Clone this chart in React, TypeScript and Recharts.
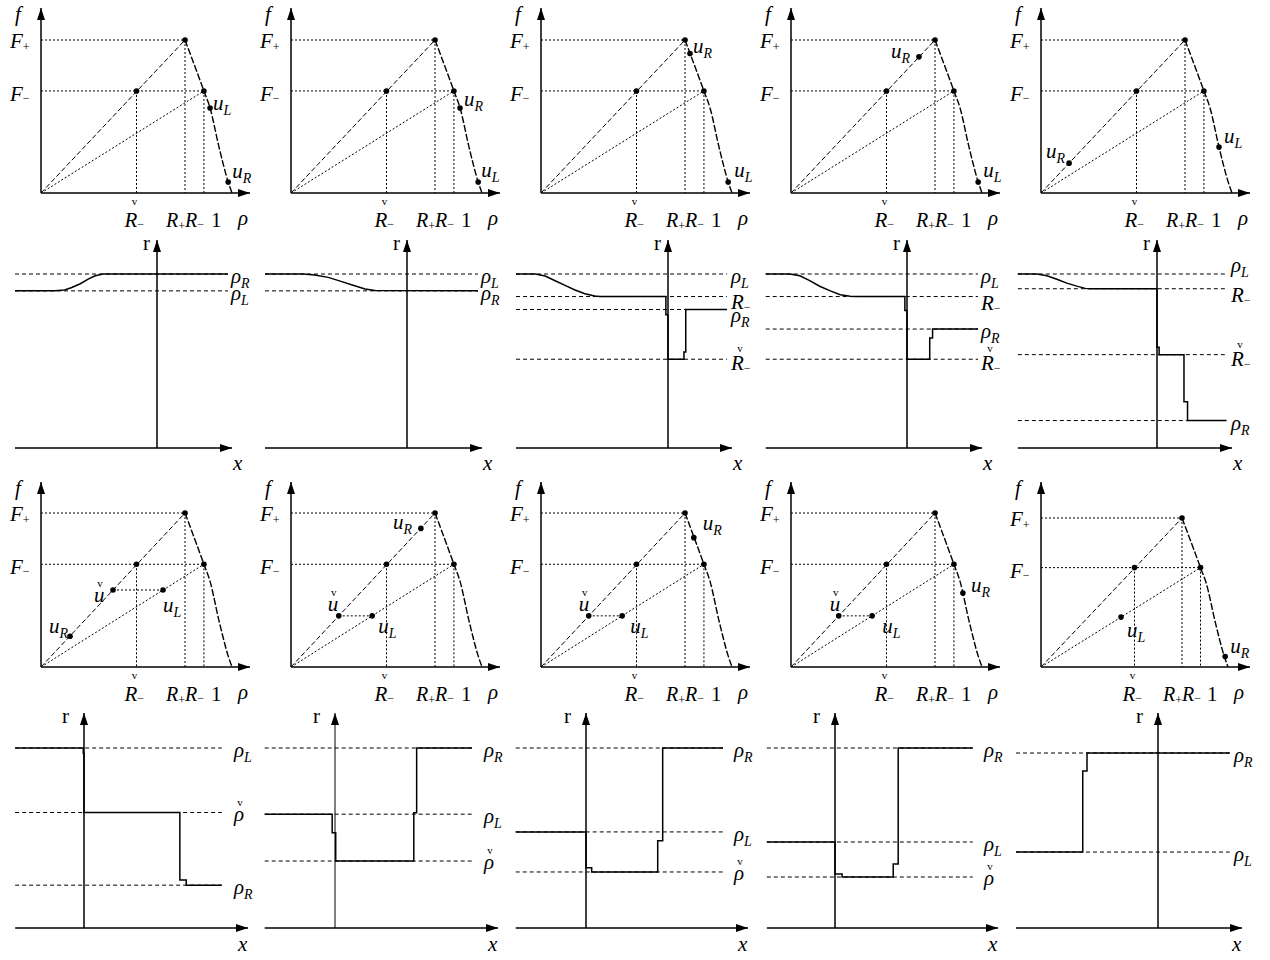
import React from 'react';
import { ComposedChart, Line, XAxis, YAxis, ReferenceLine, ReferenceDot } from 'recharts';

const FONT = '"Liberation Serif", "Times New Roman", Times, serif';
const INK = '#000';

/* ---------- fundamental diagram (flux f against density rho) ---------- */
const R_CHECK = 0.5;
const R_PLUS = 0.754;
const R_MINUS = 0.853;
const F_PLUS = 1.0;
const F_MINUS = 0.667;

const FLUX_RHO = [0.754, 0.853, 0.885, 0.932, 0.98, 1.0];
const FLUX_F = [1.0, 0.667, 0.556, 0.3, 0.072, 0.0];

/* states marked in the first row of diagrams */
const TOP_UL_RHO = [0.885, 0.98, 0.98, 0.98, 0.932];
const TOP_UL_F = [0.556, 0.072, 0.072, 0.072, 0.3];
const TOP_UR_RHO = [0.98, 0.885, 0.78, 0.67, 0.147];
const TOP_UR_F = [0.072, 0.556, 0.912, 0.89, 0.195];

/* states marked in the third row of diagrams */
const MID_UL_RHO = [0.639, 0.425, 0.425, 0.425, 0.428];
const MID_UL_F = [0.5, 0.332, 0.332, 0.332, 0.335];
const MID_UR_RHO = [0.152, 0.68, 0.8, 0.9, 0.985];
const MID_UR_F = [0.2, 0.9, 0.84, 0.48, 0.07];
const MID_UC_RHO = [0.377, 0.25, 0.25, 0.25];
const MID_UC_F = [0.5, 0.332, 0.332, 0.332];

/* ---------- density profiles r(x), second row ---------- */
const P21_X = [-2.0, -1.44, -1.3, -1.2, -1.08, -0.97, -0.87, -0.76, 1.0];
const P21_R = [0.885, 0.885, 0.89, 0.904, 0.925, 0.951, 0.97, 0.98, 0.98];
const P21_LEV = [0.98, 0.885];
const P21_LAB = ['ρ_R', 'ρ_L'];

const P22_X = [-2.0, -1.46, -1.3, -1.11, -0.94, -0.76, -0.59, -0.45, 1.0];
const P22_R = [0.98, 0.98, 0.975, 0.961, 0.94, 0.917, 0.896, 0.887, 0.885];
const P22_LEV = [0.98, 0.885];
const P22_LAB = ['ρ_L', 'ρ_R'];

const P23_X = [-2.14, -1.87, -1.73, -1.59, -1.45, -1.31, -1.17, -1.03, -0.96, -0.03, -0.03, 0, 0, 0.225, 0.225, 0.25, 0.25, 0.83];
const P23_R = [0.98, 0.98, 0.969, 0.942, 0.916, 0.89, 0.869, 0.856, 0.853, 0.853, 0.75, 0.75, 0.5, 0.5, 0.54, 0.54, 0.78, 0.78];
const P23_LEV = [0.98, 0.853, 0.78, 0.5];
const P23_LAB = ['ρ_L', 'R_−', 'ρ_R', 'Ř_−'];

const P24_X = [-1.99, -1.65, -1.51, -1.37, -1.23, -1.08, -0.94, -0.8, -0.73, -0.03, -0.03, 0, 0, 0.32, 0.32, 0.36, 0.36, 1.0];
const P24_R = [0.98, 0.98, 0.97, 0.943, 0.911, 0.885, 0.863, 0.855, 0.853, 0.853, 0.775, 0.775, 0.5, 0.5, 0.62, 0.62, 0.67, 0.67];
const P24_LEV = [0.98, 0.853, 0.67, 0.5];
const P24_LAB = ['ρ_L', 'R_−', 'ρ_R', 'Ř_−'];

const P25_X = [-1.96, -1.69, -1.55, -1.41, -1.27, -1.13, -1.01, -0.94, 0, 0, 0.03, 0.03, 0.38, 0.38, 0.43, 0.43, 0.98];
const P25_R = [0.932, 0.932, 0.923, 0.904, 0.883, 0.867, 0.855, 0.853, 0.853, 0.54, 0.54, 0.5, 0.5, 0.248, 0.248, 0.147, 0.147];
const P25_LEV = [0.932, 0.853, 0.5, 0.147];
const P25_LAB = ['ρ_L', 'R_−', 'Ř_−', 'ρ_R'];

/* ---------- density profiles r(x), fourth row ---------- */
const P41_X = [-0.97, -0.01, -0.01, 0, 0, 1.35, 1.35, 1.44, 1.44, 1.94];
const P41_R = [0.639, 0.639, 0.62, 0.62, 0.41, 0.41, 0.17, 0.17, 0.152, 0.152];
const P41_LEV = [0.639, 0.41, 0.152];
const P41_LAB = ['ρ_L', 'ρ\u030C', 'ρ_R'];

const P42_X = [-0.99, -0.04, -0.04, 0.01, 0.01, 1.11, 1.11, 1.15, 1.15, 1.93];
const P42_R = [0.43, 0.43, 0.36, 0.36, 0.253, 0.253, 0.435, 0.435, 0.68, 0.68];
const P42_LEV = [0.68, 0.43, 0.253];
const P42_LAB = ['ρ_R', 'ρ_L', 'ρ\u030C'];

const P43_X = [-0.99, 0, 0, 0.08, 0.08, 1.01, 1.01, 1.08, 1.08, 1.93];
const P43_R = [0.427, 0.427, 0.268, 0.268, 0.249, 0.249, 0.388, 0.388, 0.8, 0.8];
const P43_LEV = [0.8, 0.427, 0.249];
const P43_LAB = ['ρ_R', 'ρ_L', 'ρ\u030C'];

const P44_X = [-0.96, 0, 0, 0.1, 0.1, 0.82, 0.82, 0.89, 0.89, 1.94];
const P44_R = [0.43, 0.43, 0.27, 0.27, 0.255, 0.255, 0.32, 0.32, 0.9, 0.9];
const P44_LEV = [0.9, 0.43, 0.255];
const P44_LAB = ['ρ_R', 'ρ_L', 'ρ\u030C'];

const P45_X = [-2.0, -1.06, -1.06, -1.0, -1.0, 1.01];
const P45_R = [0.423, 0.423, 0.875, 0.875, 0.975, 0.975];
const P45_LEV = [0.975, 0.423];
const P45_LAB = ['ρ_R', 'ρ_L'];

type Prof = { x: number[]; r: number[]; lev: number[]; lab: string[] };
const ROW2_PROFILES: Prof[] = [
  { x: P21_X, r: P21_R, lev: P21_LEV, lab: P21_LAB },
  { x: P22_X, r: P22_R, lev: P22_LEV, lab: P22_LAB },
  { x: P23_X, r: P23_R, lev: P23_LEV, lab: P23_LAB },
  { x: P24_X, r: P24_R, lev: P24_LEV, lab: P24_LAB },
  { x: P25_X, r: P25_R, lev: P25_LEV, lab: P25_LAB },
];
const ROW4_PROFILES: Prof[] = [
  { x: P41_X, r: P41_R, lev: P41_LEV, lab: P41_LAB },
  { x: P42_X, r: P42_R, lev: P42_LEV, lab: P42_LAB },
  { x: P43_X, r: P43_R, lev: P43_LEV, lab: P43_LAB },
  { x: P44_X, r: P44_R, lev: P44_LEV, lab: P44_LAB },
  { x: P45_X, r: P45_R, lev: P45_LEV, lab: P45_LAB },
];

/* ---------- layout (pixels) ---------- */
const PANEL_W = 250;
const CHART_W = 262;
const FD_OX = 41;
const FD_OY = 193;
const TOP_SX = [191, 191, 191, 191, 191];
const TOP_SY = [153, 153, 153, 153, 153];
const MID_SX = [191, 191, 191, 191, 187];
const MID_SY = [154, 154, 154, 154, 149];
const F_TIP_PX = 8;
const RHO_TIP_PX = 250;
const TXT = 21;

const TOP_UL_OFF = [[3, 2], [3, -5], [6, -5], [5, -5], [5, -4]];
const TOP_UR_OFF = [[4, -4], [4, -2], [3, 0], [-28, 1], [-23, -5]];
const MID_UL_OFF = [[0, 22], [6, 17], [8, 17], [10, 17], [6, 20]];
const MID_UR_OFF = [[-21, -3], [-28, 1], [9, -8], [8, -1], [5, -4]];
const MID_UC_OFF = [[-19, 12], [-11, -5], [-10, -5], [-9, -5]];

const PX_X = 71;
const ROW2 = {
  top: 228, h: 247, zeroY: 220, topY: [46, 46, 46, 46, 46],
  axisX: [157, 157, 168, 157, 157], xTip: [232, 232, 232, 232, 232],
  rTip: 12, rDx: -14, xDx: 1, xDy: 22, labelX: 231,
  labDy: [[0, 0], [0, 0], [0, -1, 3, 0], [0, 0, 0, 0], [-11, 0, 0, 0]],
};
const ROW4 = {
  top: 700, h: 260, zeroY: 228, topY: [48, 48, 48, 48, 53],
  axisX: [84, 85, 86, 85, 158], xTip: [248, 248, 248, 248, 242],
  rTip: 13, rDx: -22, xDx: -10, xDy: 23, labelX: 234,
  labDy: [[0, 0, 0], [0, 0, 0], [0, 0, 0], [0, 0, 0], [0, 0]],
};

type Pt = { x: number; y: number };
type Opts = { size?: number; subSize?: number; subDy?: number; upright?: boolean; subUpright?: boolean; caron?: boolean; caronDx?: number; caronDy?: number };

function sym(x: number, y: number, base: string, sub?: string, o: Opts = {}) {
  const size = o.size ?? TXT;
  const subSize = o.subSize ?? (o.subUpright ? 12 : 14);
  return (
    <g>
      <text x={x} y={y} fontFamily={FONT} fontSize={size} fontStyle={o.upright ? 'normal' : 'italic'} fill={INK}>
        {base}
        {sub ? (
          <tspan dy={o.subDy ?? 5} fontSize={subSize} fontStyle={o.subUpright ? 'normal' : 'italic'}>
            {sub}
          </tspan>
        ) : null}
      </text>
      {o.caron ? (
        <text x={x + (o.caronDx ?? 6)} y={y + (o.caronDy ?? -13)} fontFamily={FONT} fontSize={11} textAnchor="middle" fill={INK}>
          v
        </text>
      ) : null}
    </g>
  );
}

function parseLabel(s: string) {
  const [head, sub] = s.split('_');
  let base = head;
  let caron = false;
  if (head === 'Ř') {
    base = 'R';
    caron = true;
  }
  if (head === 'ρ\u030C') {
    base = 'ρ';
    caron = true;
  }
  return { base, sub, caron };
}

function levelText(label: string, cx: number, cy: number) {
  const { base, sub, caron } = parseLabel(label);
  const upSub = sub === '−' || sub === '+';
  if (base === 'R') {
    return sym(cx, cy + (caron ? 11 : 13), 'R', sub, { subUpright: upSub, subDy: upSub ? 2 : 5, caron, caronDx: 9, caronDy: -18 });
  }
  return sym(cx, cy + (caron ? 8 : 9), base, sub, { caron, caronDx: 6, caronDy: -15 });
}

const arrowUp = (p: any) => (
  <path d={`M${p.cx},${p.cy} L${p.cx - 4},${p.cy + 12} L${p.cx + 4},${p.cy + 12} Z`} fill={INK} />
);
const arrowRight = (p: any) => (
  <path d={`M${p.cx},${p.cy} L${p.cx - 12},${p.cy - 4} L${p.cx - 12},${p.cy + 4} Z`} fill={INK} />
);

function seg(key: string, a: Pt, b: Pt, dash?: string, w = 1) {
  return (
    <ReferenceLine key={key} segment={[a, b]} stroke={INK} strokeWidth={w} strokeDasharray={dash} ifOverflow="visible" />
  );
}
function dot(key: string, p: Pt) {
  return <ReferenceDot key={key} x={p.x} y={p.y} r={2.8} fill={INK} stroke="none" ifOverflow="visible" />;
}
function mark(key: string, p: Pt, render: (cx: number, cy: number) => React.ReactElement) {
  return (
    <ReferenceDot key={key} x={p.x} y={p.y} r={0} ifOverflow="visible" shape={(s: any) => render(s.cx, s.cy)} />
  );
}

function FDPanel({ col, mid }: { col: number; mid: boolean }) {
  const top = mid ? 474 : 0;
  const H = mid ? 232 : 235;
  const sx = mid ? MID_SX[col] : TOP_SX[col];
  const sy = mid ? MID_SY[col] : TOP_SY[col];
  const xDom: [number, number] = [-FD_OX / sx, (CHART_W - FD_OX) / sx];
  const yDom: [number, number] = [-(H - FD_OY) / sy, FD_OY / sy];
  const fTip = (FD_OY - F_TIP_PX) / sy;
  const rhoTip = (RHO_TIP_PX - FD_OX) / sx;
  const curve = FLUX_RHO.map((r, i) => ({ x: r, y: FLUX_F[i] }));
  const uL: Pt = mid ? { x: MID_UL_RHO[col], y: MID_UL_F[col] } : { x: TOP_UL_RHO[col], y: TOP_UL_F[col] };
  const uR: Pt = mid ? { x: MID_UR_RHO[col], y: MID_UR_F[col] } : { x: TOP_UR_RHO[col], y: TOP_UR_F[col] };
  const uC: Pt | null = mid && col < MID_UC_RHO.length ? { x: MID_UC_RHO[col], y: MID_UC_F[col] } : null;
  const offL = mid ? MID_UL_OFF[col] : TOP_UL_OFF[col];
  const offR = mid ? MID_UR_OFF[col] : TOP_UR_OFF[col];
  const offC = mid && col < MID_UC_OFF.length ? MID_UC_OFF[col] : null;

  const O = { x: 0, y: 0 };
  const peak = { x: R_PLUS, y: F_PLUS };
  const fm = { x: R_MINUS, y: F_MINUS };
  const cm = { x: R_CHECK, y: F_MINUS };

  return (
    <div style={{ position: 'absolute', left: col * PANEL_W, top }}>
      <ComposedChart width={CHART_W} height={H} margin={{ top: 0, right: 0, bottom: 0, left: 0 }}>
        <XAxis type="number" dataKey="x" domain={xDom} allowDataOverflow hide />
        <YAxis type="number" domain={yDom} allowDataOverflow hide />
        {seg('gfp', { x: 0, y: F_PLUS }, peak, '2 2')}
        {seg('gfm', { x: 0, y: F_MINUS }, fm, '2 2')}
        {seg('gvc', cm, { x: R_CHECK, y: 0 }, '2 2')}
        {seg('gvp', peak, { x: R_PLUS, y: 0 }, '2 2')}
        {seg('gvm', fm, { x: R_MINUS, y: 0 }, '2 2')}
        {seg('lp', O, peak, '5 2.5')}
        {seg('lm', O, fm, '2 2')}
        {uC ? seg('uc', uC, uL, '2 2') : null}
        <Line
          data={curve}
          dataKey="y"
          type="monotone"
          stroke={INK}
          strokeWidth={1.4}
          strokeDasharray="7 2"
          dot={false}
          activeDot={false}
          isAnimationActive={false}
        />
        {seg('af', O, { x: 0, y: fTip }, undefined, 1.5)}
        {seg('ar', O, { x: rhoTip, y: 0 }, undefined, 1.5)}
        <ReferenceDot x={0} y={fTip} r={0} ifOverflow="visible" shape={arrowUp} />
        <ReferenceDot x={rhoTip} y={0} r={0} ifOverflow="visible" shape={arrowRight} />
        {dot('dp', peak)}
        {dot('dc', cm)}
        {dot('dm', fm)}
        {dot('dl', uL)}
        {dot('dr', uR)}
        {uC ? dot('du', uC) : null}
        {mark('tf', { x: 0, y: fTip }, (cx, cy) => sym(cx - 26, cy + 13, 'f'))}
        {mark('tfp', { x: 0, y: F_PLUS }, (cx, cy) => sym(cx - 31, cy + 8, 'F', '+', { subUpright: true, subDy: 3 }))}
        {mark('tfm', { x: 0, y: F_MINUS }, (cx, cy) => sym(cx - 31, cy + 10, 'F', '−', { subUpright: true, subDy: 1 }))}
        {mark('trc', { x: R_CHECK, y: 0 }, (cx, cy) =>
          sym(cx - 12, cy + 34, 'R', '−', { subUpright: true, subDy: 1, caron: true, caronDx: 10, caronDy: -22 })
        )}
        {mark('trp', { x: R_PLUS, y: 0 }, (cx, cy) => (
          <text x={cx - 19} y={cy + 34} fontFamily={FONT} fontSize={20} fontStyle="italic" fill={INK}>
            R
            <tspan dy={3} fontSize={12} fontStyle="normal">+</tspan>
            <tspan dy={-3} fontSize={20} fontStyle="italic">R</tspan>
            <tspan dy={1} fontSize={12} fontStyle="normal">−</tspan>
          </text>
        ))}
        {mark('t1', { x: 1, y: 0 }, (cx, cy) => sym(cx - 21, cy + 34, '1', undefined, { upright: true }))}
        {mark('trho', { x: 1, y: 0 }, (cx, cy) => sym(cx + 6, cy + 32, 'ρ'))}
        {mark('tul', uL, (cx, cy) => sym(cx + offL[0], cy + offL[1], 'u', 'L'))}
        {mark('tur', uR, (cx, cy) => sym(cx + offR[0], cy + offR[1], 'u', 'R'))}
        {uC && offC
          ? mark('tuc', uC, (cx, cy) => sym(cx + offC[0], cy + offC[1], 'u', undefined, { caron: true, caronDx: 6, caronDy: -15 }))
          : null}
      </ComposedChart>
    </div>
  );
}

function ProfilePanel({ col, row }: { col: number; row: 2 | 4 }) {
  const L = row === 2 ? ROW2 : ROW4;
  const prof = (row === 2 ? ROW2_PROFILES : ROW4_PROFILES)[col];
  const axisX = L.axisX[col];
  const maxVal = Math.max(...prof.lev);
  const unit = (L.zeroY - L.topY[col]) / maxVal;
  const xDom: [number, number] = [-axisX / PX_X, (CHART_W - axisX) / PX_X];
  const yDom: [number, number] = [-(L.h - L.zeroY) / unit, L.zeroY / unit];
  const data = prof.x.map((x, i) => ({ x, y: prof.r[i] }));
  const x0 = prof.x[0];
  const x1 = prof.x[prof.x.length - 1];
  const xTip = (L.xTip[col] - axisX) / PX_X;
  const rTip = (L.zeroY - L.rTip) / unit;
  const labelX = (L.labelX - axisX) / PX_X;
  const axisW = row === 4 && col === 1 ? 1 : 1.5;
  const labDy = L.labDy[col];

  return (
    <div style={{ position: 'absolute', left: col * PANEL_W, top: L.top }}>
      <ComposedChart width={CHART_W} height={L.h} margin={{ top: 0, right: 0, bottom: 0, left: 0 }}>
        <XAxis type="number" dataKey="x" domain={xDom} allowDataOverflow hide />
        <YAxis type="number" domain={yDom} allowDataOverflow hide />
        {prof.lev.map((v, i) => seg('lv' + i, { x: x0, y: v }, { x: x1, y: v }, '4 3', 1))}
        <Line
          data={data}
          dataKey="y"
          type="linear"
          stroke={INK}
          strokeWidth={1.5}
          dot={false}
          activeDot={false}
          isAnimationActive={false}
        />
        {seg('ax', { x: x0, y: 0 }, { x: xTip, y: 0 }, undefined, 1.5)}
        {seg('ar', { x: 0, y: 0 }, { x: 0, y: rTip }, undefined, axisW)}
        <ReferenceDot x={0} y={rTip} r={0} ifOverflow="visible" shape={arrowUp} />
        <ReferenceDot x={xTip} y={0} r={0} ifOverflow="visible" shape={arrowRight} />
        {mark('tr', { x: 0, y: rTip }, (cx, cy) => sym(cx + L.rDx, cy + 10, 'r', undefined, { upright: true }))}
        {mark('tx', { x: xTip, y: 0 }, (cx, cy) => sym(cx + L.xDx, cy + L.xDy, 'x'))}
        {prof.lev.map((v, i) =>
          mark('tl' + i, { x: labelX, y: v }, (cx, cy) => levelText(prof.lab[i], cx, cy + (labDy[i] ?? 0)))
        )}
      </ComposedChart>
    </div>
  );
}

export default function App() {
  const cols = [0, 1, 2, 3, 4];
  return (
    <div
      style={{
        position: 'absolute',
        left: 0,
        top: 0,
        width: 1270,
        height: 960,
        background: '#fff',
        overflow: 'hidden',
      }}
    >
      {cols.map((c) => (
        <FDPanel key={'a' + c} col={c} mid={false} />
      ))}
      {cols.map((c) => (
        <ProfilePanel key={'b' + c} col={c} row={2} />
      ))}
      {cols.map((c) => (
        <FDPanel key={'c' + c} col={c} mid />
      ))}
      {cols.map((c) => (
        <ProfilePanel key={'d' + c} col={c} row={4} />
      ))}
    </div>
  );
}
